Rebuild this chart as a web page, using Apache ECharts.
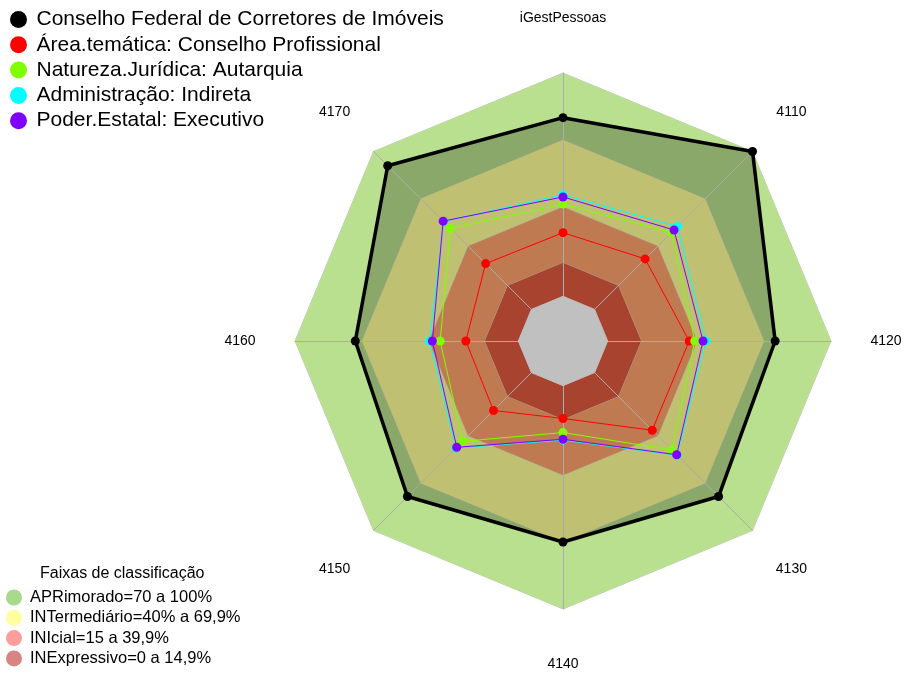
<!DOCTYPE html>
<html>
<head>
<meta charset="utf-8">
<script src="https://cdn.jsdelivr.net/npm/echarts@6/dist/echarts.min.js"></script>
<style>html,body{margin:0;padding:0;background:#fff}#c{width:905px;height:673px}</style>
</head>
<body>
<div id="c"></div>
<script>
// Categories in clockwise order starting at the top
const categories = ['iGestPessoas', '4110', '4120', '4130', '4140', '4150', '4160', '4170'];
const seriesNames = [
  'Conselho Federal de Corretores de Imóveis',
  'Área.temática: Conselho Profissional',
  'Natureza.Jurídica: Autarquia',
  'Administração: Indireta',
  'Poder.Estatal: Executivo'
];
const conselhoFederal = [80, 100, 75, 78.5, 70, 78.5, 73, 91];
const areaTematica    = [28.5, 32, 36.5, 36.5, 14.7, 24, 23.5, 29];
const naturezaJuridica= [41.3, 48.7, 39, 49, 21, 43.5, 35, 51.3];
const administracao   = [45.5, 52.5, 44, 52.3, 24.4, 47.8, 39.8, 55.6];
const poderEstatal    = [44.5, 50.3, 42.7, 52, 24, 47.3, 38.5, 55.9];
const bandNames = ['APRimorado=70 a 100%','INTermediário=40% a 69,9%','INIcial=15 a 39,9%','INExpressivo=0 a 14,9%'];
const bandUpper = [100, 70, 40, 15];
const centerValue = 0;
const axisMin = -20, axisMax = 100;

const dataSets = [conselhoFederal, areaTematica, naturezaJuridica, administracao, poderEstatal];
const seriesColors = ['#000000', '#ff0000', '#80ff00', '#00ffff', '#8000ff'];
const bandFill = ['#b9e08e', '#c0c072', '#c07a52', '#a8432f'];
const bandLegendColor = ['#a9d98b', '#ffffa0', '#ff9c9c', '#d98383'];

// ECharts places indicators counter-clockwise; reorder from clockwise data
const ccw = [0, 7, 6, 5, 4, 3, 2, 1];
const reorder = arr => ccw.map(i => arr[i]);
const flat = v => categories.map(() => v);

const series = [];
series.push({type: 'radar', name: bandNames[0], z: 1, symbol: 'none', silent: true,
  itemStyle: {color: bandFill[0]}, lineStyle: {color: '#c4c4c4', width: 1},
  areaStyle: {color: bandFill[0], opacity: 1}, data: [{value: reorder(flat(bandUpper[0]))}]});
series.push({type: 'radar', name: '_cfArea', z: 2, symbol: 'none', silent: true,
  lineStyle: {width: 0}, areaStyle: {color: '#89a869', opacity: 1}, data: [{value: reorder(conselhoFederal)}]});
for (let b = 1; b < 4; b++) {
  series.push({type: 'radar', name: bandNames[b], z: 2 + b, symbol: 'none', silent: true,
    itemStyle: {color: bandFill[b]}, lineStyle: {color: '#aaa69a', width: 1},
    areaStyle: {color: bandFill[b], opacity: 1}, data: [{value: reorder(flat(bandUpper[b]))}]});
}
series.push({type: 'radar', name: '_centre', z: 7, symbol: 'none', silent: true,
  lineStyle: {color: '#c0c0c0', width: 1}, areaStyle: {color: '#c0c0c0', opacity: 1},
  data: [{value: reorder(flat(centerValue))}]});
dataSets.forEach((d, i) => {
  series.push({type: 'radar', name: seriesNames[i], z: 8 + i, symbol: 'circle', symbolSize: 9,
    itemStyle: {color: seriesColors[i]},
    lineStyle: {color: seriesColors[i], width: i === 0 ? 3.5 : 1},
    data: [{value: reorder(d)}]});
});

const chart = echarts.init(document.getElementById('c'), null, {renderer: 'canvas'});
chart.setOption({
  animation: false,
  textStyle: {fontFamily: 'Liberation Sans, Arial, sans-serif'},
  title: {text: 'Faixas de classificação', left: 40, top: 566, padding: 0,
    textStyle: {fontSize: 16, fontWeight: 'normal', color: '#000', fontFamily: 'Liberation Sans'}},
  legend: [{
    orient: 'vertical', left: 10, top: 9, padding: 0, icon: 'circle',
    itemWidth: 26, itemHeight: 17, itemGap: 4.3, selectedMode: false,
    textStyle: {fontSize: 21, lineHeight: 21, color: '#000', fontFamily: 'Liberation Sans'},
    data: seriesNames.map((n, i) => ({name: n, itemStyle: {color: seriesColors[i]}}))
  }, {
    orient: 'vertical', left: 6, top: 589, padding: 0, icon: 'circle',
    itemWidth: 22, itemHeight: 16, itemGap: 3.3, selectedMode: false,
    textStyle: {fontSize: 16.5, lineHeight: 17, color: '#000', fontFamily: 'Liberation Sans'},
    data: bandNames.map((n, i) => ({name: n, itemStyle: {color: bandLegendColor[i]}}))
  }],
  radar: {
    center: [563, 341], radius: 268, shape: 'polygon', z: 6,
    startAngle: 90,
    indicator: reorder(categories).map(n => ({name: n, min: axisMin, max: axisMax})),
    nameGap: 55,
    axisName: {color: '#000', fontSize: 14, fontFamily: 'Liberation Sans', align: 'center', verticalAlign: 'middle', padding: [3, 0, 0, 0]},
    axisLine: {show: true, lineStyle: {color: '#acacac', width: 1}},
    splitLine: {show: false},
    splitArea: {show: false},
    axisTick: {show: false},
    axisLabel: {show: false}
  },
  series: series
});
</script>
</body>
</html>
